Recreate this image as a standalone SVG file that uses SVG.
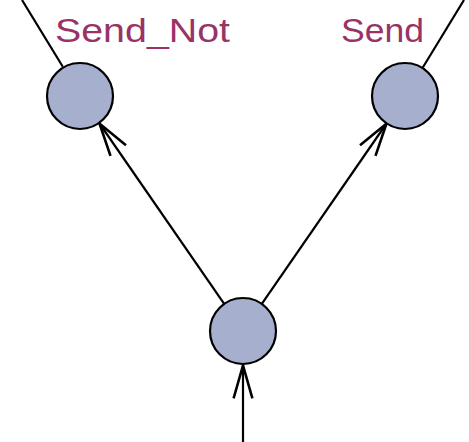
<svg xmlns="http://www.w3.org/2000/svg" width="469" height="442" viewBox="0 0 469 442">
<style>
.node{fill:#a7afce;stroke:#000;stroke-width:2.2}
.edge{fill:none;stroke:#000;stroke-width:2.2}
.label{font-family:"Liberation Sans",Arial,sans-serif;font-size:33px;fill:#993366}
</style>
<defs>
<marker id="arr" markerUnits="userSpaceOnUse" markerWidth="40" markerHeight="40" refX="0" refY="0" viewBox="-30 -15 34 30" orient="auto" overflow="visible">
<path d="M-28,-8 L0,0 L-28,8" fill="none" stroke="#000" stroke-width="2.2"/>
</marker>
</defs>
<g id="connectors">
<line class="edge" x1="22" y1="0" x2="62.8" y2="66.8"/>
<line class="edge" x1="464" y1="0" x2="422.8" y2="67.5"/>
<line class="edge" x1="224.2" y1="303.8" x2="99.5" y2="123.5" marker-end="url(#arr)"/>
<line class="edge" x1="261.8" y1="303.8" x2="386.5" y2="123.5" marker-end="url(#arr)"/>
<line class="edge" x1="243" y1="442" x2="243" y2="365.5" marker-end="url(#arr)"/>
</g>
<g id="node-send-not">
<circle class="node" cx="80" cy="96" r="33"/>
<text class="label" x="55" y="42" textLength="175" lengthAdjust="spacingAndGlyphs">Send_Not</text>
</g>
<g id="node-send">
<circle class="node" cx="405" cy="96" r="33"/>
<text class="label" x="341" y="42" textLength="83" lengthAdjust="spacingAndGlyphs">Send</text>
</g>
<g id="node-start">
<circle class="node" cx="243" cy="331" r="33"/>
</g>
</svg>
